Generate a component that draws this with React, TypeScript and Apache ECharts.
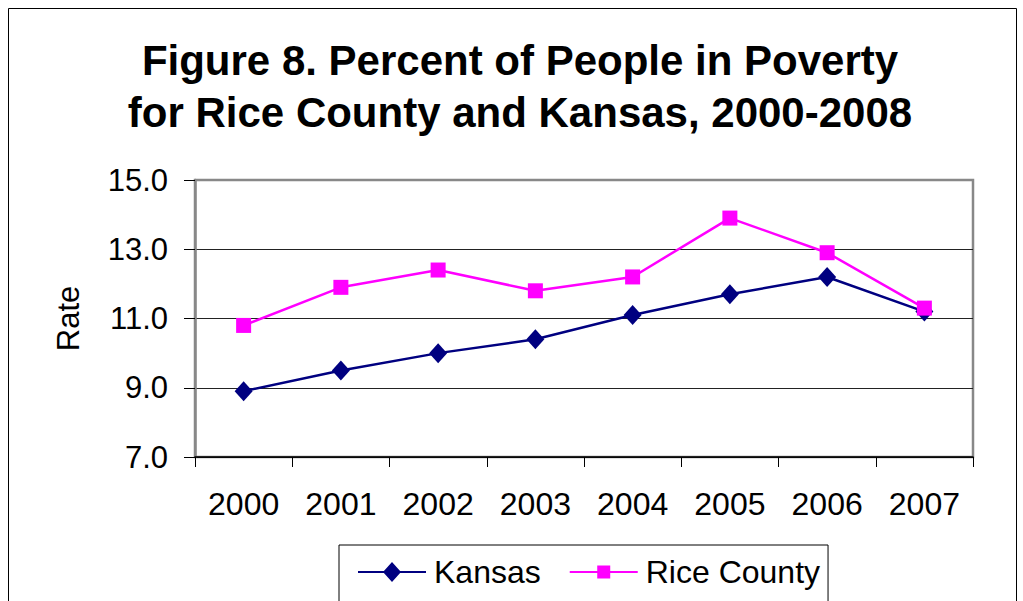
import React, { useEffect, useRef } from "react";
import * as echarts from "echarts";

const years = ["2000", "2001", "2002", "2003", "2004", "2005", "2006", "2007"];
const kansas = [8.9, 9.5, 10.0, 10.4, 11.1, 11.7, 12.2, 11.2];
const riceCounty = [10.8, 11.9, 12.4, 11.8, 12.2, 13.9, 12.9, 11.3];
const titleLines = ["Figure 8. Percent of People in Poverty", "for Rice County and Kansas, 2000-2008"];

const kansasIcon = "path://M0,9 L68,9 L68,11 L0,11 Z M34,0 L43,10 L34,20 L25,10 Z";
const riceIcon = "path://M0,9 L68,9 L68,11 L0,11 Z M27.5,3.5 L40.5,3.5 L40.5,16.5 L27.5,16.5 Z";

export default function App() {
  const ref = useRef<HTMLDivElement>(null);
  useEffect(() => {
    const chart = echarts.init(ref.current!, null, { renderer: "svg" });
    const font = "Liberation Sans, Arial, sans-serif";
    chart.setOption({
      animation: false,
      backgroundColor: "#fff",
      textStyle: { fontFamily: font },
      graphic: [
        {
          type: "rect",
          shape: { x: 8.5, y: 8.5, width: 1008, height: 620 },
          style: { fill: "none", stroke: "#000", lineWidth: 1 },
        },
        {
          type: "text",
          x: 520,
          y: 34,
          style: {
            text: titleLines.join("\n"),
            fontSize: 42,
            fontWeight: "bold",
            fontFamily: font,
            fill: "#000",
            lineHeight: 52,
            align: "center",
            verticalAlign: "top",
          },
        },
      ],
      grid: {
        left: 195,
        right: 50,
        top: 180,
        bottom: 144,
        show: true,
        borderColor: "#888",
        borderWidth: 2.5,
        containLabel: false,
      },
      legend: {
        left: 339,
        top: 545,
        padding: [11, 8, 30, 19],
        borderColor: "#000",
        borderWidth: 1,
        itemWidth: 68,
        itemHeight: 20,
        itemGap: 29,
        textStyle: { fontSize: 32, color: "#000", fontFamily: font, padding: [0, 0, 0, 3] },
        data: [
          { name: "Kansas", icon: kansasIcon },
          { name: "Rice County", icon: riceIcon },
        ],
      },
      xAxis: {
        type: "category",
        data: years,
        boundaryGap: true,
        axisLine: { lineStyle: { color: "#000", width: 1.5 } },
        axisTick: { show: true, length: 10, lineStyle: { color: "#000" } },
        axisLabel: { fontSize: 32, color: "#000", margin: 31, fontFamily: font },
      },
      yAxis: {
        type: "value",
        min: 7,
        max: 15,
        interval: 2,
        name: "Rate",
        nameLocation: "middle",
        nameGap: 111,
        nameRotate: 90,
        nameTextStyle: { fontSize: 31, color: "#000", fontFamily: font },
        axisLine: { show: true, lineStyle: { color: "#888", width: 2.5 } },
        axisTick: { show: true, length: 11, lineStyle: { color: "#000" } },
        axisLabel: { fontSize: 31, color: "#000", margin: 27, formatter: (v: number) => v.toFixed(1), fontFamily: font },
        splitLine: {
          show: true,
          lineStyle: { color: ["#222", "#222", "#222", "#222", "rgba(0,0,0,0)"], width: 1 },
        },
      },
      series: [
        {
          name: "Kansas",
          type: "line",
          data: kansas,
          symbol: "diamond",
          symbolSize: [18, 20],
          lineStyle: { color: "#000080", width: 2.5 },
          itemStyle: { color: "#000080" },
          z: 3,
        },
        {
          name: "Rice County",
          type: "line",
          data: riceCounty,
          symbol: "rect",
          symbolSize: 15,
          lineStyle: { color: "#FF00FF", width: 2.5 },
          itemStyle: { color: "#FF00FF" },
          z: 4,
        },
      ],
    });
    return () => chart.dispose();
  }, []);
  return <div ref={ref} style={{ width: 1023, height: 601, position: "absolute", left: 0, top: 0 }} />;
}
